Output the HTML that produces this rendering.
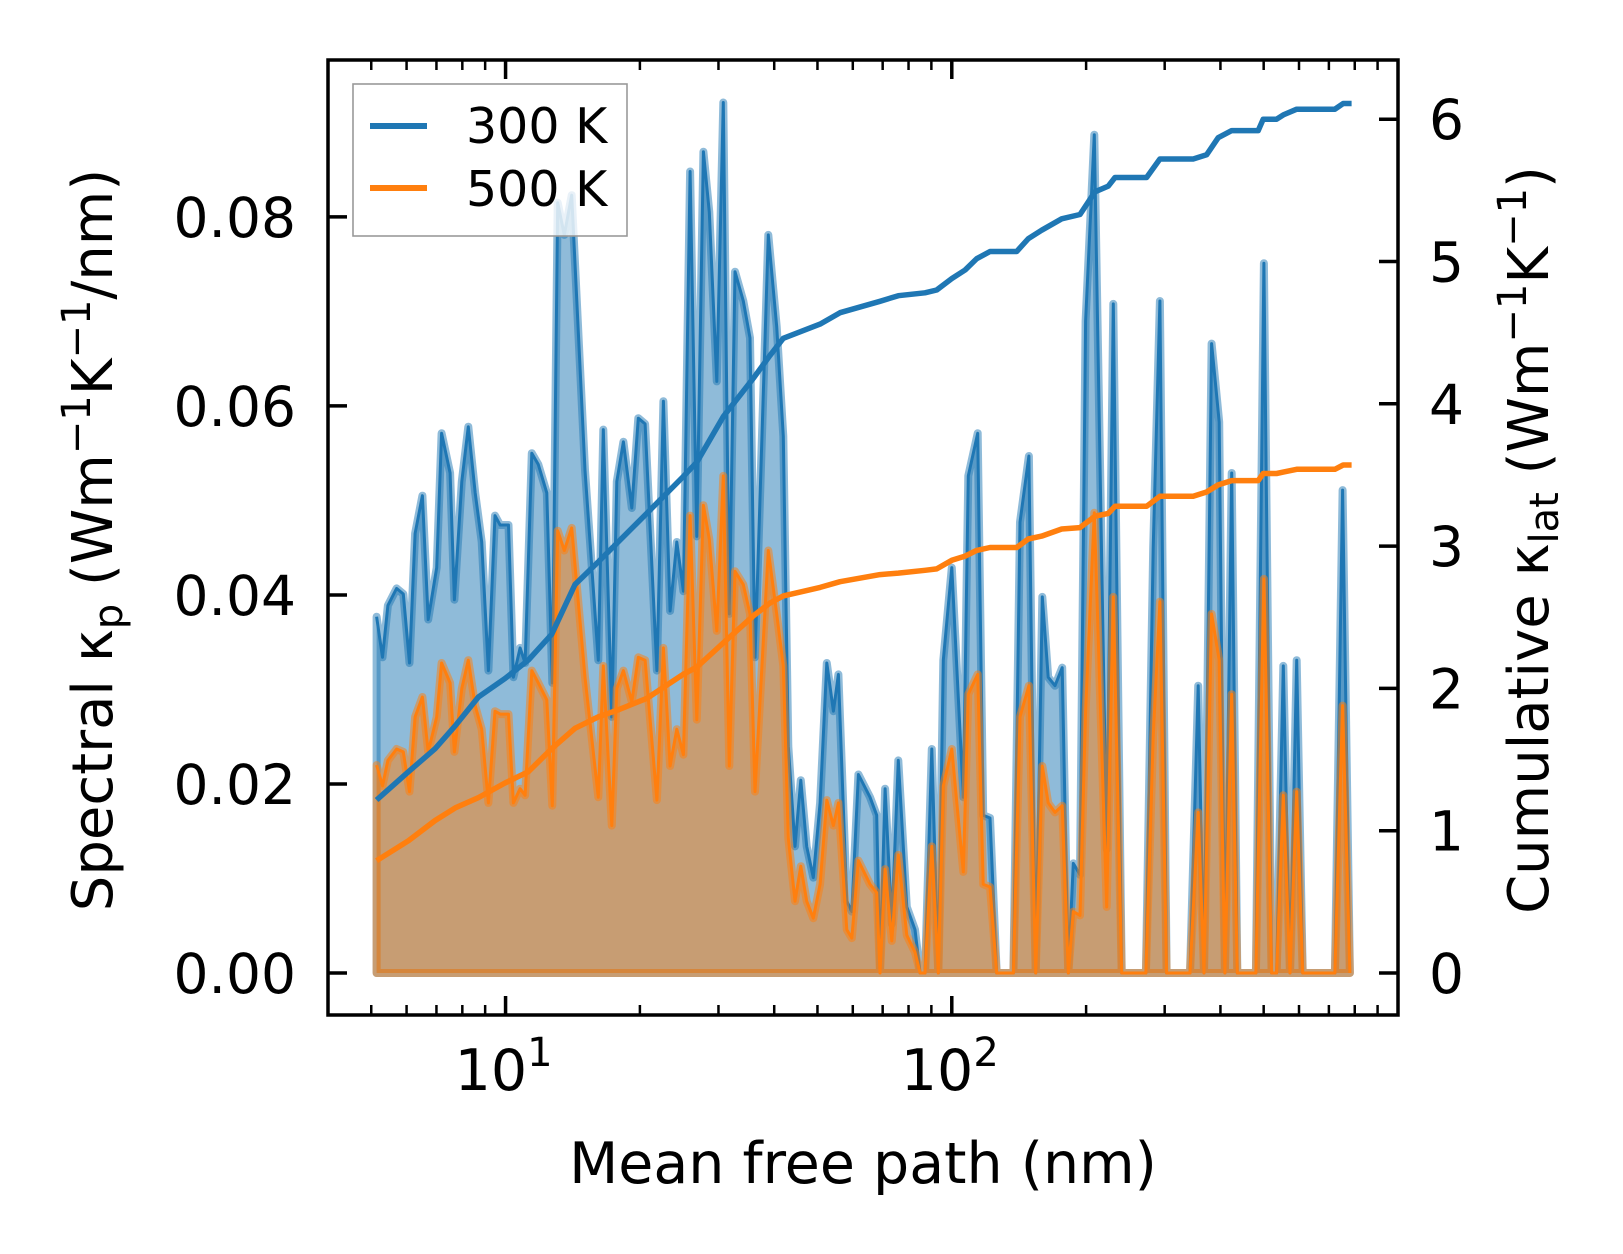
<!DOCTYPE html>
<html>
<head>
<meta charset="utf-8">
<style>
html,body{margin:0;padding:0;background:#fff;}
svg{display:block;font-family:"DejaVu Sans","Liberation Sans",sans-serif;}
</style>
</head>
<body>
<svg id="chart" width="1623" height="1254" viewBox="0 0 1623 1254" xmlns="http://www.w3.org/2000/svg">
  <rect x="0" y="0" width="1623" height="1254" fill="#fff"/>
  <g id="plot"></g>
  <g id="axes"></g>
  <g>
    <rect x="353" y="84" width="274" height="152" fill="#fff" fill-opacity="0.8" stroke="#999" stroke-width="1.6"/>
    <line x1="370" y1="126" x2="427" y2="126" stroke="#1f77b4" stroke-width="6"/>
    <text x="466" y="143" font-size="49" fill="#000">300 K</text>
    <line x1="370" y1="188" x2="427" y2="188" stroke="#ff7f0e" stroke-width="6"/>
    <text x="466" y="206" font-size="49" fill="#000">500 K</text>
  </g>
  <text x="863" y="1183" font-size="57" text-anchor="middle" fill="#000">Mean free path (nm)</text>
  <text transform="translate(112,540) rotate(-90)" font-size="56" text-anchor="middle" fill="#000">Spectral κ<tspan font-size="40" dy="10">p</tspan><tspan dy="-10"> (Wm</tspan><tspan font-size="40" dy="-22">−1</tspan><tspan dy="22">K</tspan><tspan font-size="40" dy="-22">−1</tspan><tspan dy="22">/nm)</tspan></text>
  <text transform="translate(1548,540) rotate(-90)" font-size="56" text-anchor="middle" fill="#000">Cumulative κ<tspan font-size="40" dy="10">lat</tspan><tspan dy="-10"> (Wm</tspan><tspan font-size="40" dy="-22">−1</tspan><tspan dy="22">K</tspan><tspan font-size="40" dy="-22">−1</tspan><tspan dy="22">)</tspan></text>
</svg>
<script>
// ---- data ----
const mfp = [5.14,5.30,5.45,5.70,5.90,6.09,6.27,6.51,6.71,7.01,7.19,7.51,7.68,7.98,8.25,8.55,8.84,9.15,9.47,9.72,10.15,10.41,10.78,11.06,11.45,11.84,12.37,12.73,13.09,13.54,14.07,15.07,16.14,16.56,17.30,17.75,18.37,19.18,19.84,20.54,21.83,22.58,23.37,24.19,25.03,25.91,26.82,27.75,28.62,29.74,30.76,31.73,32.67,34.10,35.30,36.22,38.80,40.52,41.93,43.02,44.53,45.87,47.31,48.95,50.68,52.46,54.28,55.70,58.16,59.68,61.75,65.58,67.89,69.06,70.88,73.37,75.9,79.3,82.7,84.9,87.1,90.2,93.3,95.7,100,106.1,108.9,114.3,117.6,121.8,126.1,137.4,142.2,148.9,154.2,159.5,164.5,170.3,176.8,182.4,187.2,193.8,199.5,208.6,222.4,230.1,240.3,272.3,282.8,292.7,303.0,341.8,356.7,367.4,382.2,397.5,409.4,424.0,436.4,480.3,500.6,521.0,534.6,553.2,572.7,592.8,611.4,722.1,751.4,780.3];
const spec300 = [.0377,.0334,.0389,.0407,.0401,.0328,.0465,.0505,.0374,.0429,.0571,.0529,.0395,.0520,.0578,.0508,.0456,.0320,.0484,.0474,.0474,.0313,.0344,.0328,.0550,.0538,.0508,.0307,.0815,.0781,.0823,.0532,.0331,.0575,.0271,.0520,.0562,.0492,.0587,.0581,.0320,.0605,.0383,.0456,.0404,.0848,.0462,.0869,.0805,.0626,.0921,.0380,.0742,.0711,.0672,.0334,.0781,.0684,.0568,.0240,.0134,.0204,.0134,.0101,.0180,.0328,.0277,.0316,.0076,.0065,.0210,.0186,.0167,.0003,.0195,.0052,.0225,.0070,.0046,0,0,.0237,0,.0331,.0429,.0186,.0526,.0571,.0167,.0164,0,0,.0477,.0547,0,.0398,.0313,.0304,.0323,0,.0116,.0104,.0690,.0887,.0131,.0708,0,0,.0450,.0711,0,0,.0304,0,.0666,.0583,0,.0529,0,0,.0751,0,0,.0325,0,.0331,0,0,.0511,0];
const spec500 = [.0220,.0198,.0225,.0237,.0234,.0192,.0271,.0292,.0234,.0271,.0328,.0307,.0234,.0301,.0331,.0283,.0258,.0180,.0277,.0274,.0274,.0180,.0195,.0188,.0320,.0307,.0289,.0177,.0468,.0447,.0471,.0313,.0186,.0325,.0156,.0301,.0320,.0287,.0334,.0331,.0183,.0344,.0219,.0258,.0231,.0484,.0268,.0495,.0459,.0362,.0526,.0219,.0425,.0411,.0380,.0192,.0447,.0380,.0325,.0143,.0076,.0113,.0076,.0058,.0094,.0183,.0156,.0180,.0046,.0037,.0119,.0094,.0085,0,.0110,.0034,.0125,.0040,.0022,0,0,.0134,0,.0198,.0237,.0107,.0295,.0316,.0094,.0091,0,0,.0271,.0304,0,.0219,.0180,.0170,.0177,0,.0065,.0061,.0277,.0487,.0070,.0398,0,0,.0250,.0393,0,0,.0170,0,.0380,.0331,0,.0295,0,0,.0417,0,0,.0188,0,.0192,0,0,.0283,0];
const cumMfp = [5.14,6.06,6.95,7.71,8.69,9.97,11.25,12.69,14.31,16.14,17.89,20.72,25.03,26.82,30.76,35.92,39.14,41.93,50.68,56.18,69.06,75.9,87.1,92.5,100,107.1,113.7,121.8,139.8,148.4,159.0,176.3,193.8,209.4,224.3,232.2,257.3,273.3,292.7,347.6,372.5,395.5,424.0,486.1,498.9,534.6,553.2,592.8,722.1,753.7,787.0];
const cum300 = [1.216,1.415,1.576,1.737,1.94,2.07,2.20,2.38,2.73,2.89,3.03,3.23,3.49,3.59,3.91,4.18,4.34,4.46,4.56,4.64,4.72,4.76,4.78,4.80,4.88,4.94,5.02,5.07,5.07,5.16,5.22,5.30,5.33,5.49,5.53,5.59,5.59,5.59,5.72,5.72,5.75,5.87,5.92,5.92,6.00,6.00,6.03,6.07,6.07,6.11,6.11];
const cum500 = [0.789,0.93,1.072,1.16,1.233,1.335,1.415,1.576,1.72,1.80,1.85,1.93,2.10,2.15,2.32,2.51,2.60,2.65,2.71,2.75,2.80,2.81,2.83,2.84,2.90,2.93,2.97,2.99,2.99,3.05,3.07,3.12,3.13,3.21,3.23,3.28,3.28,3.28,3.35,3.35,3.38,3.43,3.46,3.46,3.51,3.51,3.52,3.54,3.54,3.57,3.57];
const leftTicks = [0, 0.02, 0.04, 0.06, 0.08];
const leftTickLabels = ["0.00","0.02","0.04","0.06","0.08"];
const rightTicks = [0,1,2,3,4,5,6];
const xMajor = [10, 100];
const xMajorExp = ["1","2"];

// ---- scales ----
const AX = {l:328, r:1398, t:60, b:1015};
const xLog0 = Math.log10(4), xLog1 = 3;
function X(v){ return AX.l + (Math.log10(v)-xLog0)/(xLog1-xLog0)*(AX.r-AX.l); }
const yl0 = -0.00444, yl1 = 0.0966;
function YL(v){ return AX.b - (v-yl0)/(yl1-yl0)*(AX.b-AX.t); }
const yr0 = -0.295, yr1 = 6.416;
function YR(v){ return AX.b - (v-yr0)/(yr1-yr0)*(AX.b-AX.t); }

const NS = "http://www.w3.org/2000/svg";
const plot = document.getElementById('plot');
const axes = document.getElementById('axes');
function mk(tag, attrs, parent){
  const e = document.createElementNS(NS, tag);
  for (const k in attrs) e.setAttribute(k, attrs[k]);
  parent.appendChild(e);
  return e;
}

function drawSpectral(vals, color, name){
  let pts = mfp.map((m,i)=>X(m).toFixed(1)+','+YL(vals[i]).toFixed(1));
  const base = [X(mfp[mfp.length-1]).toFixed(1)+','+YL(0).toFixed(1), X(mfp[0]).toFixed(1)+','+YL(0).toFixed(1)];
  const poly = mk('polygon', {points: pts.concat(base).join(' '), fill: color, 'fill-opacity':0.5, stroke: color, 'stroke-opacity':0.5, 'stroke-width':8, 'stroke-linejoin':'round'}, plot);
  
  
  const line = mk('polyline', {points: pts.join(' '), fill:'none', stroke: color, 'stroke-width':3, 'stroke-linejoin':'round'}, plot);
  
  
}
drawSpectral(spec300, '#1f77b4', 'spectral-300k');
drawSpectral(spec500, '#ff7f0e', 'spectral-500k');

function drawCum(vals, color, name){
  const pts = cumMfp.map((m,i)=>X(m).toFixed(1)+','+YR(vals[i]).toFixed(1));
  const line = mk('polyline', {points: pts.join(' '), fill:'none', stroke: color, 'stroke-width':5.5, 'stroke-linejoin':'round'}, plot);
  
  
}
drawCum(cum300, '#1f77b4', 'cumulative-300k');
drawCum(cum500, '#ff7f0e', 'cumulative-500k');

// ---- axes frame ----
const frame = mk('rect', {x:AX.l, y:AX.t, width:AX.r-AX.l, height:AX.b-AX.t, fill:'none', stroke:'#000', 'stroke-width':3.5}, axes);



leftTicks.forEach((v,i)=>{
  const y = YL(v);
  const t = mk('line', {x1:AX.l, x2:AX.l+19, y1:y, y2:y, stroke:'#000', 'stroke-width':3.5}, axes);
  
  
  const lb = mk('text', {x:296, y:y+20, 'font-size':55, 'text-anchor':'end', fill:'#000'}, axes);
  lb.textContent = leftTickLabels[i];
  
  
});
rightTicks.forEach(v=>{
  const y = YR(v);
  const t = mk('line', {x1:AX.r-19, x2:AX.r, y1:y, y2:y, stroke:'#000', 'stroke-width':3.5}, axes);
  
  
  const lb = mk('text', {x:1429, y:y+20, 'font-size':55, 'text-anchor':'start', fill:'#000'}, axes);
  lb.textContent = String(v);
  
  
});
for (let d=0; d<=2; d++){
  for (let k=1; k<=9; k++){
    const v = k*Math.pow(10,d);
    if (v<=4 || v>1000) continue;
    const x = X(v);
    const major = (k===1);
    const len = major ? 19 : 10;
    const b = mk('line', {x1:x, x2:x, y1:AX.b, y2:AX.b-len, stroke:'#000', 'stroke-width': major?3.5:2.5}, axes);
    
    
    const tp = mk('line', {x1:x, x2:x, y1:AX.t, y2:AX.t+len, stroke:'#000', 'stroke-width': major?3.5:2.5}, axes);
    
    
  }
}
xMajor.forEach((v,i)=>{
  const x = X(v);
  const lb = mk('text', {x:x-2, y:1090, 'font-size':57, 'text-anchor':'middle', fill:'#000'}, axes);
  lb.textContent = '10';
  const sup = document.createElementNS(NS,'tspan');
  sup.setAttribute('font-size','40');
  sup.setAttribute('dy','-24');
  sup.textContent = xMajorExp[i];
  lb.appendChild(sup);
  
  
});
</script>
</body>
</html>
